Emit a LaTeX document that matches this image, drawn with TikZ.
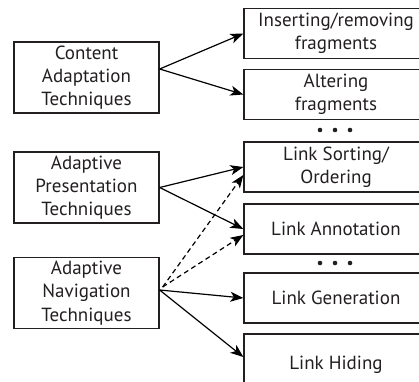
\documentclass[tikz,border=0pt]{standalone}
\usepackage{fontspec}
\setmainfont{PT Sans}
\usetikzlibrary{arrows.meta}
\definecolor{inkgray}{HTML}{231F20}
\begin{document}
\begin{tikzpicture}[x=1pt,y=-1pt,
  box/.style={draw=inkgray, line width=1.3pt, text=inkgray, align=center,
    inner sep=0pt, font=\fontsize{19}{23.3}\selectfont},
  leftbox/.style={box, minimum width=145pt, minimum height=71pt},
  rightbox/.style={box, minimum width=184pt, minimum height=50pt},
  arr/.style={draw=black, line width=1.2pt, -{Stealth[length=13pt,width=10pt,inset=3.5pt]}},
  darr/.style={arr, dash pattern=on 5pt off 3.5pt},
  dot/.style={fill=inkgray, draw=none, circle, minimum size=4.6pt, inner sep=0pt}
]
\clip (0,0) rectangle (419,381);
\useasboundingbox (0,0) rectangle (419,381);

% technique groups
\node[leftbox] (ca) at (86.5,77.5) {Content\\Adaptation\\Techniques};
\node[leftbox] (pa) at (86.5,187.5) {Adaptive\\Presentation\\Techniques};
\node[leftbox] (na) at (86.5,293) {Adaptive\\Navigation\\Techniques};

% individual methods
\node[rightbox] (r1) at (336,33.5) {Inserting/removing\\fragments};
\node[rightbox] (r2) at (336,94.5) {Altering\\fragments};
\node[rightbox] (r3) at (336,167) {Link Sorting/\\Ordering};
\node[rightbox] (r4) at (336,229) {Link Annotation};
\node[rightbox] (r5) at (336,298) {Link Generation};
\node[rightbox, minimum height=62pt] (r6) at (336,365) {Link Hiding};

% ellipsis marks
\foreach \y/\n in {130/a, 263/b} {
  \node[dot] (d\n1) at (320,\y) {};
  \node[dot] (d\n2) at (335,\y) {};
  \node[dot] (d\n3) at (350,\y) {};
}

% connectors
\draw[arr] ([yshift=8.5pt]ca.east) -- (r1.west);
\draw[arr] ([yshift=8.5pt]ca.east) -- (r2.west);
\draw[arr] (pa.east) -- (r3.west);
\draw[arr] (pa.east) -- (r4.west);
\draw[arr] ([yshift=3pt]na.east) -- (r5.west);
\draw[arr] ([yshift=3pt]na.east) -- ([yshift=8pt]r6.west);
\draw[darr] ([shift={(3pt,6pt)}]na.east) -- ([yshift=-8pt]r3.west);
\draw[darr] ([shift={(3pt,6pt)}]na.east) -- ([yshift=-6pt]r4.west);
\end{tikzpicture}
\end{document}
